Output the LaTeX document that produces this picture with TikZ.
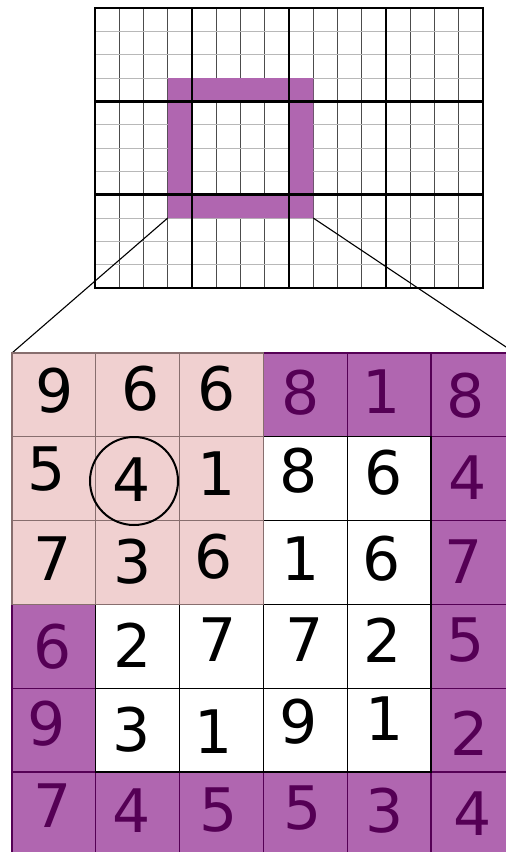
\documentclass[tikz,border=0pt]{standalone}
\usepackage{fontspec}
\newfontfamily\digitfont{DejaVu Sans}
\usetikzlibrary{calc}
\definecolor{ink}{RGB}{0,0,0}
\definecolor{ring}{RGB}{176,102,176}
\definecolor{ringdark}{RGB}{85,0,85}
\definecolor{blockpink}{RGB}{240,208,208}
\definecolor{blockedge}{RGB}{135,110,110}
\tikzset{
  every picture/.style={x=1pt, y=-1pt, line width=0.8pt},
  thinv/.style={draw=black!70, line width=1pt},
  thinh/.style={draw=black!28, line width=1pt},
  blockline/.style={draw=ink, line width=2.8pt, line cap=rect},
  digit/.style={font=\digitfont\fontsize{60}{60}\selectfont, inner sep=0pt, text=ink},
  ringdigit/.style={digit, text=ringdark},
  pinkcell/.style={fill=blockpink, draw=blockedge, line width=1.1pt},
  ringcell/.style={fill=ring, draw=ringdark, line width=1.1pt},
  plaincell/.style={fill=white, draw=ink, line width=1.1pt},
  zoomline/.style={draw=ink, line width=1.1pt},
  pick/.style={circle, draw=ink, line width=2pt, minimum size=88pt, inner sep=0pt},
}

\begin{document}
\begin{tikzpicture}
  \useasboundingbox (0,0) rectangle (506,852);
  \clip (0,0) rectangle (506,852);

  % overview: 16 x 12 cells, 4 x 3 blocks
  \foreach \i in {1,...,15} { \draw[thinv] ({95+\i*24.25},8) -- ++(0,280); }
  \foreach \j in {1,...,11} { \draw[thinh] (95,{8+\j*23.333}) -- ++(388,0); }
  \fill[ring, even odd rule] (167.75,78) rectangle (313.25,218)
                             (192,101.3) rectangle (289,194.7);
  \foreach \i in {0,...,4} { \draw[blockline] ({95+\i*97},8) -- ++(0,280); }
  \foreach \j in {0,...,3} { \draw[blockline] (95,{8+\j*93.333}) -- ++(388,0); }

  \coordinate (ringsw) at (167.75,218);
  \coordinate (ringse) at (313.25,218);
  \coordinate (zoomnw) at (12,353);
  \coordinate (zoomne) at (515,353);
  \draw[zoomline] (ringsw) -- (zoomnw);
  \draw[zoomline] (ringse) -- (zoomne);

  % magnified 6 x 6 window
  \foreach \c in {3,4,5} { \path[ringcell] ({12+\c*83.8},353) rectangle ++(83.8,83.8); }
  \foreach \r in {1,...,5} { \path[ringcell] ({12+5*83.8},{353+\r*83.8}) rectangle ++(83.8,83.8); }
  \foreach \c in {0,...,4} { \path[ringcell] ({12+\c*83.8},{353+5*83.8}) rectangle ++(83.8,83.8); }
  \foreach \r in {3,4} { \path[ringcell] (12,{353+\r*83.8}) rectangle ++(83.8,83.8); }
  \foreach \c in {1,...,4} {
    \foreach \r in {1,...,4} { \path[plaincell] ({12+\c*83.8},{353+\r*83.8}) rectangle ++(83.8,83.8); }
  }
  \foreach \c in {0,1,2} {
    \foreach \r in {0,1,2} { \path[pinkcell] ({12+\c*83.8},{353+\r*83.8}) rectangle ++(83.8,83.8); }
  }

  \foreach \r/\c/\x/\y/\v in {0/0/55/391/9, 0/1/141/389/6, 0/2/217/389/6,
      1/0/47/469/5, 1/1/132/480/4, 1/2/217/474/1, 1/3/299/471/8, 1/4/384/473/6,
      2/0/53/559/7, 2/1/133/562/3, 2/2/214/557/6, 2/3/301/559/1, 2/4/382/559/6,
      3/1/133/645/2, 3/2/218/640/7, 3/3/305/640/7, 3/4/383/640/2,
      4/1/132/730/3, 4/2/214/732/1, 4/3/299/722/9, 4/4/385/719/1}
    { \node[digit] (d-\r-\c) at (\x,\y) {\v}; }
  \foreach \r/\c/\x/\y/\v in {0/3/301/393/8, 0/4/382/392/1, 0/5/466/396/8,
      1/5/468/478/4, 2/5/464/562/7, 3/5/466/640/5, 4/5/470/733/2,
      3/0/53/647/6, 4/0/47/724/9,
      5/0/53/806/7, 5/1/132/811/4, 5/2/219/810/5, 5/3/303/808/5, 5/4/385/811/3, 5/5/473/814/4}
    { \node[ringdigit] (d-\r-\c) at (\x,\y) {\v}; }

  \node[pick] (chosen) at (134,481) {};
\end{tikzpicture}
\end{document}
